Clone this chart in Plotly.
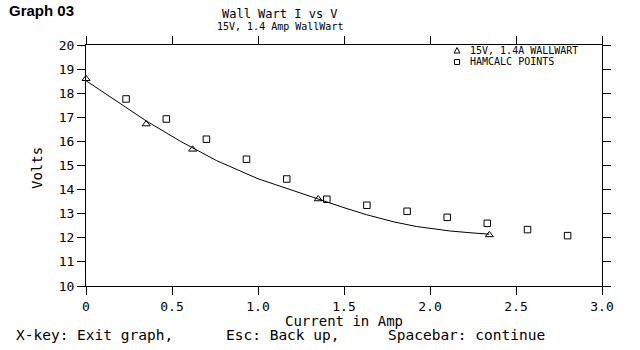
import plotly.graph_objects as go

# ---- data ----
tri_x = [0.0, 0.35, 0.62, 1.35, 2.345]
tri_y = [18.6, 16.72, 15.67, 13.61, 12.12]

sq_x = [0.233, 0.467, 0.70, 0.933, 1.167, 1.40, 1.633, 1.867, 2.10, 2.333, 2.567, 2.80]
sq_y = [17.76, 16.93, 16.09, 15.26, 14.44, 13.60, 13.35, 13.10, 12.85, 12.60, 12.34, 12.09]

curve_x = [0.0, 0.16, 0.35, 0.55, 0.76, 1.0, 1.19, 1.35, 1.5, 1.63, 1.79, 1.92, 2.12, 2.25, 2.345]
curve_y = [18.52, 17.77, 16.85, 16.0, 15.2, 14.45, 13.99, 13.62, 13.25, 12.96, 12.66, 12.47, 12.28, 12.2, 12.15]

x_ticks = [0, 0.5, 1.0, 1.5, 2.0, 2.5, 3.0]
x_tick_text = ["0", "0.5", "1.0", "1.5", "2.0", "2.5", "3.0"]
y_ticks = list(range(10, 21))

title = "Wall Wart I vs V"
subtitle = "15V, 1.4 Amp WallWart"
legend_labels = ["15V, 1.4A WALLWART", "HAMCALC POINTS"]

W, H = 640, 350
L, R, T, B = 86, 38, 45, 64
PW, PH = W - L - R, H - T - B


def px(x):
    return (x - L) / PW


def py(y):
    return (H - B - y) / PH


MONO = "DejaVu Sans Mono"
BLACK = "#000000"

fig = go.Figure()
fig.add_trace(go.Scatter(x=curve_x, y=curve_y, mode="lines",
                         line=dict(color=BLACK, width=1), showlegend=False,
                         cliponaxis=False))
fig.add_trace(go.Scatter(x=tri_x, y=tri_y, mode="markers",
                         marker=dict(symbol="triangle-up-open", size=7, color=BLACK,
                                     line=dict(width=1, color=BLACK)),
                         showlegend=False, cliponaxis=False))
fig.add_trace(go.Scatter(x=sq_x, y=sq_y, mode="markers",
                         marker=dict(symbol="square-open", size=6.5, color=BLACK,
                                     line=dict(width=1, color=BLACK)),
                         showlegend=False, cliponaxis=False))

axis_common = dict(showline=True, linecolor=BLACK, linewidth=1, mirror="ticks",
                   ticks="outside", ticklen=8, tickcolor=BLACK, tickwidth=1,
                   showgrid=False, zeroline=False,
                   tickfont=dict(family=MONO, size=13, color=BLACK))

fig.update_layout(
    width=W, height=H,
    margin=dict(l=L, r=R, t=T, b=B),
    paper_bgcolor="white", plot_bgcolor="white",
    showlegend=False,
    xaxis=dict(range=[0, 3], tickvals=x_ticks, ticktext=x_tick_text, **axis_common),
    yaxis=dict(range=[10, 20], tickvals=y_ticks, **axis_common),
)

ann = []


def add_text(text, x, y, size, xanchor="center", family=MONO, angle=0):
    ann.append(dict(text=text, x=px(x), y=py(y), xref="paper", yref="paper",
                    xanchor=xanchor, yanchor="middle", showarrow=False,
                    textangle=angle,
                    font=dict(family=family, size=size, color=BLACK)))


add_text("<b>Graph 03</b>", 7, 10, 15, xanchor="left", family="Liberation Sans")
add_text(title, 280, 14, 12)
add_text(subtitle, 280, 26, 10)
add_text("Volts", 37, 168, 14, angle=-90)
add_text("Current in Amp", 344, 321, 14)
add_text("X-key: Exit graph,", 14, 335, 14.5, xanchor="left")
add_text("Esc: Back up,", 224, 335, 14.5, xanchor="left")
add_text("Spacebar: continue", 386, 335, 14.5, xanchor="left")
add_text(legend_labels[0], 468, 50, 10, xanchor="left")
add_text(legend_labels[1], 468, 62, 10, xanchor="left")
fig.update_layout(annotations=ann)

# legend glyphs
shapes = [
    dict(type="path", xref="paper", yref="paper",
         path=f"M {px(454)} {py(53)} L {px(460)} {py(53)} L {px(457)} {py(47.5)} Z",
         line=dict(color=BLACK, width=1)),
    dict(type="rect", xref="paper", yref="paper",
         x0=px(454.5), x1=px(459.5), y0=py(64.5), y1=py(59.5),
         line=dict(color=BLACK, width=1)),
]
fig.update_layout(shapes=shapes)

fig.write_html("out.html")
